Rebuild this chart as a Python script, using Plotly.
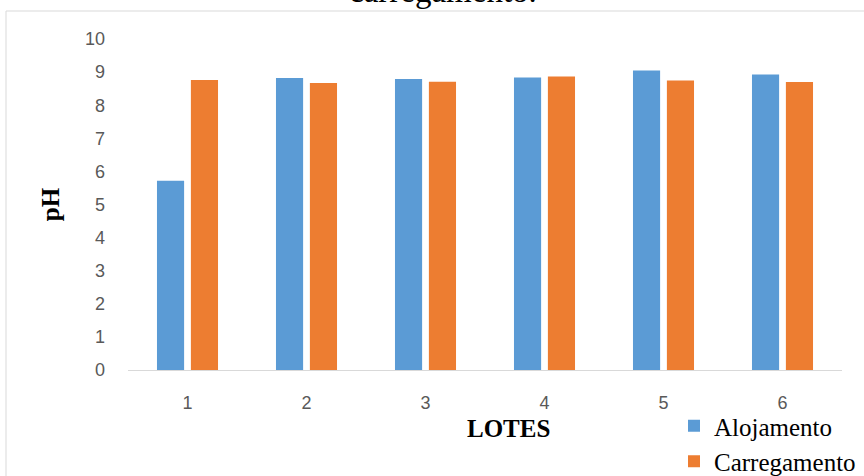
import plotly.graph_objects as go

# pH per batch, at housing and at loading
lotes = ["1", "2", "3", "4", "5", "6"]
alojamento = [5.72, 8.82, 8.79, 8.84, 9.05, 8.93]
carregamento = [8.76, 8.67, 8.71, 8.87, 8.75, 8.70]

W, H = 864, 476
L, R, T, B = 128, 22, 39, 106
pw, ph = W - L - R, H - T - B

def px(x):
    return (x - L) / pw

def py(y):
    return (H - B - y) / ph

fig = go.Figure()
fig.add_trace(go.Bar(x=lotes, y=alojamento, name="Alojamento",
                     marker=dict(color="#5B9BD5", line=dict(width=0))))
fig.add_trace(go.Bar(x=lotes, y=carregamento, name="Carregamento",
                     marker=dict(color="#ED7D31", line=dict(width=0))))

tick_font = dict(family="Liberation Sans", size=18, color="#595959")
serif = "Liberation Serif"

fig.update_layout(
    width=W, height=H,
    margin=dict(l=L, r=R, t=T, b=B, autoexpand=False),
    paper_bgcolor="white", plot_bgcolor="white",
    barmode="group", bargap=0.43, bargroupgap=0.2,
    showlegend=True,
    legend=dict(x=px(674), y=py(403), xanchor="left", yanchor="top",
                font=dict(family=serif, size=25, color="black"),
                bgcolor="rgba(0,0,0,0)", tracegroupgap=0, itemwidth=30),
    xaxis=dict(showgrid=False, showline=True, linecolor="#D9D9D9", linewidth=1,
               ticks="", ticklabelstandoff=16, tickfont=tick_font),
    yaxis=dict(range=[0, 10], dtick=1, showgrid=False, showline=False, zeroline=False,
               ticks="", ticklabelstandoff=22, tickfont=tick_font,
               title=dict(text="<b>pH</b>", standoff=18,
                          font=dict(family=serif, size=25, color="black"))),
    shapes=[dict(type="rect", xref="paper", yref="paper",
                 x0=px(6), x1=px(880), y0=py(11), y1=py(490),
                 line=dict(color="#D9D9D9", width=1), fillcolor="rgba(0,0,0,0)",
                 layer="below")],
    annotations=[
        dict(text="carregamento.", xref="paper", yref="paper",
             x=px(443), y=py(11), xanchor="center", yanchor="bottom",
             showarrow=False, font=dict(family=serif, size=33, color="black")),
        dict(text="<b>LOTES</b>", xref="paper", yref="paper",
             x=px(508), y=py(428), xanchor="center", yanchor="middle",
             showarrow=False, font=dict(family=serif, size=25, color="black")),
    ],
)

fig.write_html("out.html")
